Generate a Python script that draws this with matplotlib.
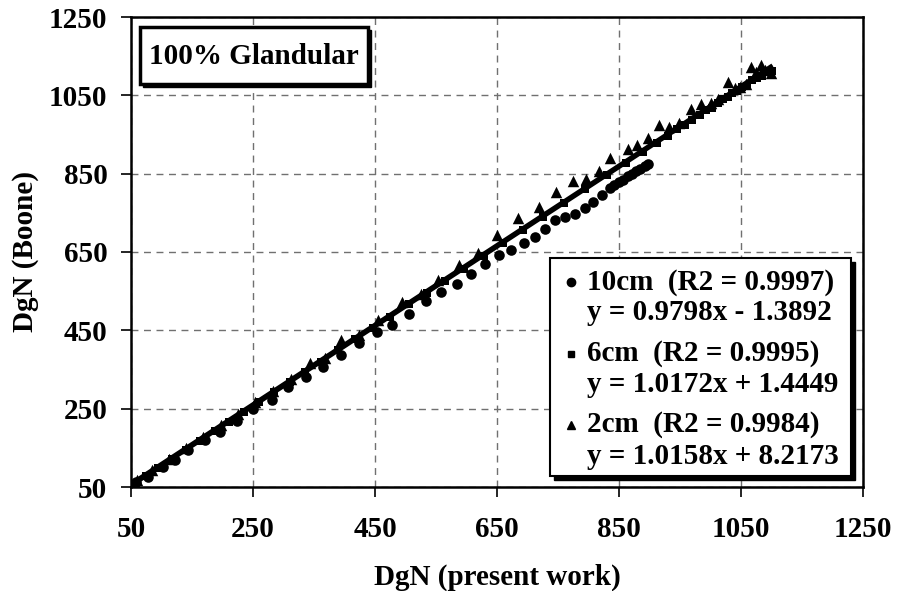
import matplotlib.pyplot as plt
import matplotlib.patches as patches

plt.rcParams['font.family'] = 'Liberation Serif'
plt.rcParams['font.weight'] = 'bold'

# 10cm phantom
x10 = [55, 59, 78, 102, 122, 144, 171, 196, 223, 250, 281, 308, 337, 365, 394,
       423, 453, 478, 506, 534, 558, 584, 607, 630, 654, 673, 694, 712, 729, 745,
       761, 778, 794, 808, 822, 835, 842, 850, 857, 864, 871, 878, 885, 892, 897]
y10 = [54, 64, 76, 100, 119, 144, 170, 191, 219, 248, 272, 305, 332, 357, 387,
       417, 445, 463, 491, 526, 547, 568, 593, 619, 642, 655, 672, 689, 710, 732,
       740, 746, 762, 778, 796, 813, 820, 828, 835, 843, 850, 857, 863, 870, 875]

# 6cm phantom
x6 = [55, 75, 95, 118, 140, 163, 187, 210, 235, 260, 285, 310, 335, 362, 390,
      418, 446, 475, 505, 535, 565, 596, 628, 660, 693, 726, 760, 795, 830, 862,
      890, 912, 930, 945, 958, 970, 982, 993, 1003, 1012, 1020, 1028, 1036, 1044,
      1052, 1060, 1068, 1076, 1084, 1092, 1100]
y6 = [57, 78, 98, 122, 144, 167, 192, 215, 241, 266, 292, 317, 343, 370, 399,
      427, 455, 485, 516, 545, 576, 607, 640, 672, 705, 740, 775, 810, 846, 878,
      906, 928, 946, 963, 975, 988, 1000, 1012, 1018, 1030, 1040, 1045, 1055, 1060,
      1072, 1075, 1088, 1095, 1100, 1110, 1112]

# 2cm phantom
x2 = [60, 85, 112, 140, 168, 197, 225, 254, 283, 312, 343, 368, 395, 423, 455,
      494, 526, 554, 587, 619, 650, 685, 719, 747, 774, 796, 818, 836, 865, 880,
      898, 916, 932, 949, 968, 985, 1000, 1012, 1029, 1040, 1048, 1058, 1067, 1075,
      1082, 1090, 1099]
y2 = [68, 94, 122, 150, 178, 208, 236, 266, 295, 325, 366, 380, 425, 438, 476,
      523, 544, 578, 617, 647, 693, 736, 764, 804, 832, 836, 857, 891, 913, 924,
      940, 974, 970, 980, 1015, 1029, 1030, 1040, 1085, 1070, 1072, 1080, 1122, 1110,
      1127, 1115, 1106]

# linear fits (slope, intercept) for 6cm and 2cm
fit6 = (1.0172, 1.4449)
fit2 = (1.0158, 8.2173)

FS = 21

fig = plt.figure(figsize=(8.97, 5.91), dpi=100)
ax = fig.add_axes([131 / 897, 1 - 487 / 591, 732 / 897, 470 / 591])

ax.scatter(x10, y10, marker='o', s=58, color='black', zorder=3, linewidths=0)
ax.scatter(x6, y6, marker='s', s=26, color='black', zorder=3, linewidths=0)
ax.scatter(x2, y2, marker='^', s=68, color='black', zorder=3, linewidths=0)

for (m, b), xs in [(fit6, x6), (fit2, x2)]:
    x0, x1 = 50, max(xs)
    ax.plot([x0, x1], [m * x0 + b, m * x1 + b], color='black', lw=2.6, zorder=4)

ax.set_xlim(50, 1250)
ax.set_ylim(50, 1250)
ticks = [50, 250, 450, 650, 850, 1050, 1250]
ax.set_xticks(ticks)
ax.set_yticks(ticks)
ax.tick_params(labelsize=FS, length=7, width=1.2, direction='out')
ax.tick_params(axis='x', pad=14)
ax.tick_params(axis='y', pad=10)
ax.grid(True, color='#707070', linestyle=(0, (5, 4)), lw=1)
for s in ax.spines.values():
    s.set_linewidth(1.8)
ax.set_xlabel('DgN (present work)', fontsize=FS, fontweight='bold')
ax.set_ylabel('DgN (Boone)', fontsize=FS, fontweight='bold')
ax.xaxis.set_label_coords(0.5, -0.163)
ax.yaxis.set_label_coords(-0.125, 0.5)


def px(x, y):
    return x / 897, 1 - y / 591


def shadow_box(x0, y0, x1, y1, off=4, lw=1.5):
    w, h = (x1 - x0) / 897, (y1 - y0) / 591
    sx, sy = px(x0 + off, y1 + off)
    fig.patches.append(patches.Rectangle((sx, sy), w, h, transform=fig.transFigure,
                                         facecolor='black', edgecolor='black', zorder=5))
    bx, by = px(x0, y1)
    fig.patches.append(patches.Rectangle((bx, by), w, h, transform=fig.transFigure,
                                         facecolor='white', edgecolor='black', lw=lw, zorder=6))


# label box
shadow_box(140, 27, 368, 84, off=3, lw=2.5)
fig.text(*px(254, 57), '100% Glandular', fontsize=FS, fontweight='bold',
         ha='center', va='center', zorder=7)

# legend box
shadow_box(550, 258, 851, 476, off=4, lw=1.5)
entries = [('o', 6, '10cm  (R2 = 0.9997)', 'y = 0.9798x - 1.3892'),
           ('s', 4.5, '6cm  (R2 = 0.9995)', 'y = 1.0172x + 1.4449'),
           ('^', 6, '2cm  (R2 = 0.9984)', 'y = 1.0158x + 8.2173')]
for i, (mk, ms, head, eq) in enumerate(entries):
    ytop = 282 + i * 71.5
    mx, my = px(571, ytop)
    fig.add_artist(plt.Line2D([mx], [my], marker=mk, markersize=ms, color='black',
                              transform=fig.transFigure, zorder=7))
    fig.text(*px(587, ytop), head, fontsize=FS, fontweight='bold', va='center', zorder=7)
    fig.text(*px(587, ytop + 31), eq, fontsize=FS, fontweight='bold', va='center', zorder=7)

fig.savefig('out.png', dpi=100)
